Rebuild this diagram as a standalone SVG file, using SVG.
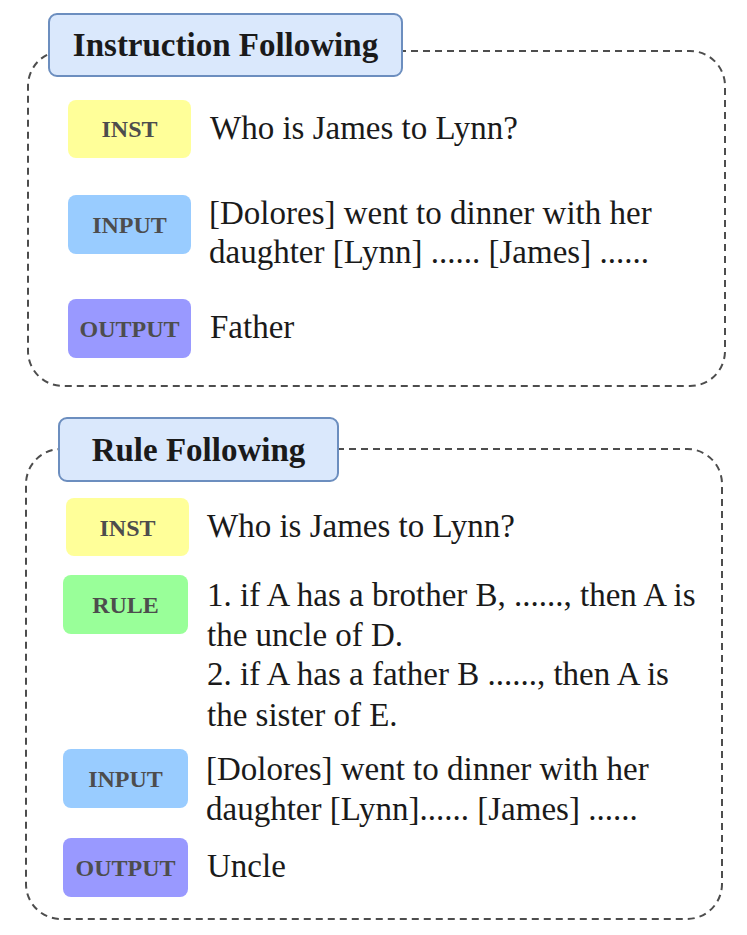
<svg xmlns="http://www.w3.org/2000/svg" width="747" height="935" viewBox="0 0 747 935">
<style>
.container{fill:none;stroke:#4d4d4d;stroke-width:2;stroke-dasharray:7 5;}
.header{fill:#dae8fc;stroke:#6c8ebf;stroke-width:2;}
.htext{font-family:"Liberation Serif",serif;font-weight:bold;font-size:33px;fill:#1a1a1a;text-anchor:middle;}
.lab{font-family:"Liberation Serif",serif;font-weight:bold;font-size:24px;fill:#4d4d4d;text-anchor:middle;}
.body{font-family:"Liberation Serif",serif;font-size:33px;fill:#1a1a1a;}
.inst{fill:#ffff99;}
.input{fill:#99ccff;}
.output{fill:#9999ff;}
.rule{fill:#99ff99;}
</style>
<rect width="747" height="935" fill="#ffffff"/>
<g id="connectors">
<rect class="container" x="28" y="51" width="697" height="335" rx="35"/>
<rect class="container" x="26" y="449" width="696" height="470" rx="35"/>
</g>
<g id="header-instruction">
<rect class="header" x="49" y="14" width="353" height="62" rx="8"/>
<text class="htext" x="225.5" y="56">Instruction Following</text>
</g>
<g id="if-inst">
<rect class="inst" x="68" y="100" width="123" height="58" rx="8"/>
<text class="lab" x="129.5" y="137">INST</text>
<text class="body" x="210" y="139">Who is James to Lynn?</text>
</g>
<g id="if-input">
<rect class="input" x="68" y="195" width="123" height="59" rx="8"/>
<text class="lab" x="129.5" y="233">INPUT</text>
<text class="body" x="209" y="224">[Dolores] went to dinner with her</text>
<text class="body" x="209" y="263">daughter [Lynn] ...... [James] ......</text>
</g>
<g id="if-output">
<rect class="output" x="68" y="299" width="123" height="59" rx="8"/>
<text class="lab" x="129.5" y="337">OUTPUT</text>
<text class="body" x="210" y="338">Father</text>
</g>
<g id="header-rule">
<rect class="header" x="59" y="418" width="279" height="63" rx="8"/>
<text class="htext" x="198.5" y="461">Rule Following</text>
</g>
<g id="rf-inst">
<rect class="inst" x="66" y="498" width="123" height="58" rx="8"/>
<text class="lab" x="127.5" y="536">INST</text>
<text class="body" x="207" y="537">Who is James to Lynn?</text>
</g>
<g id="rf-rule">
<rect class="rule" x="63" y="575" width="125" height="59" rx="8"/>
<text class="lab" x="125.5" y="613">RULE</text>
<text class="body" x="207" y="606">1. if A has a brother B, ......, then A is</text>
<text class="body" x="207" y="646">the uncle of D.</text>
<text class="body" x="207" y="685">2. if A has a father B ......, then A is</text>
<text class="body" x="207" y="726">the sister of E.</text>
</g>
<g id="rf-input">
<rect class="input" x="63" y="749" width="125" height="59" rx="8"/>
<text class="lab" x="125.5" y="787">INPUT</text>
<text class="body" x="206" y="780">[Dolores] went to dinner with her</text>
<text class="body" x="206" y="820">daughter [Lynn]...... [James] ......</text>
</g>
<g id="rf-output">
<rect class="output" x="63" y="838" width="125" height="59" rx="8"/>
<text class="lab" x="125.5" y="876">OUTPUT</text>
<text class="body" x="207" y="877">Uncle</text>
</g>
</svg>
